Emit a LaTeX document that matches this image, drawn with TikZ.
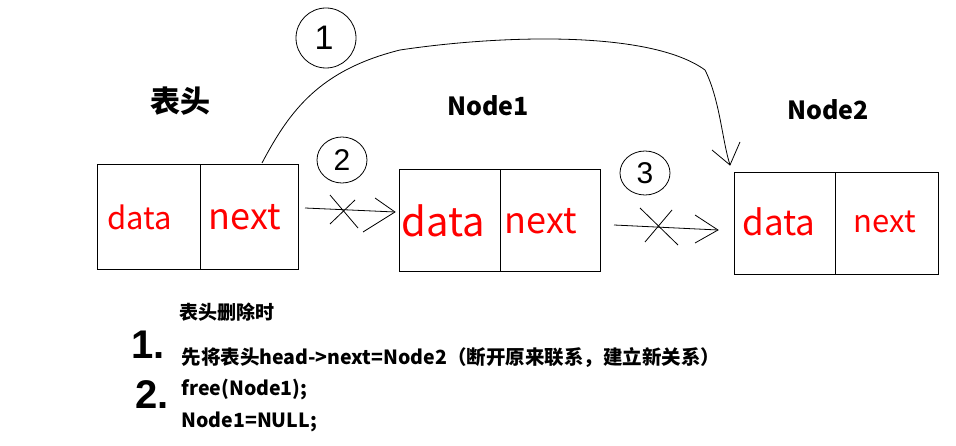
\documentclass[tikz,border=0pt]{standalone}
\usepackage{fontspec}
\setmainfont{Liberation Sans}
\newfontfamily\cjk{Noto Sans CJK SC}
\begin{document}
\begin{tikzpicture}[x=1pt,y=-1pt,
  cell/.style={draw,line width=1pt},
  red/.style={text=red,font=\cjk},
  hand/.style={line width=0.8pt},
  lbl/.style={font=\cjk\bfseries,anchor=west}]
\useasboundingbox (0,0) rectangle (956,446);
% boxes
\draw[cell] (97,165) rectangle (298,270); \draw[cell] (200,165)--(200,270);
\draw[cell] (399,170) rectangle (600,272); \draw[cell] (500,170)--(500,272);
\draw[cell] (734,173) rectangle (938,275); \draw[cell] (835,173)--(835,275);
\node[red,font=\cjk\fontsize{31}{31}\selectfont,text=red] (d1) at (140,217) {data};
\node[red,font=\cjk\fontsize{36}{36}\selectfont,text=red] (n1) at (245,217) {next};
\node[red,font=\cjk\fontsize{40}{40}\selectfont,text=red] (d2) at (443,221) {data};
\node[red,font=\cjk\fontsize{36}{36}\selectfont,text=red] (n2) at (541,221) {next};
\node[red,font=\cjk\fontsize{35}{35}\selectfont,text=red] (d3) at (779,222) {data};
\node[red,font=\cjk\fontsize{31}{31}\selectfont,text=red] (n3) at (885,222) {next};
% titles
\node[font=\cjk\bfseries\fontsize{30}{30}\selectfont] (t0) at (180,101) {表头};
\node[font=\cjk\bfseries\fontsize{25}{25}\selectfont] (t1) at (488,106) {Node1};
\node[font=\cjk\bfseries\fontsize{25}{25}\selectfont] (t2) at (828,110) {Node2};
% arrow 1
\draw[hand] (262,163) .. controls (290,110) and (320,70) .. (400,50)
  .. controls (500,35) and (650,30) .. (705,70)
  .. controls (720,100) and (722,140) .. (730,165);
\draw[hand] (712,150) -- (730,165) -- (740,142);
\draw[hand] (326,38) ellipse (30 and 30);
\node[font=\fontsize{34}{34}\selectfont] (c1) at (324,38) {1};
% arrow 2
\draw[hand] (305,208) -- (395,212);
\draw[hand] (375,198) -- (395,212) -- (363,232);
\draw[hand] (330,195) -- (358,228); \draw[hand] (330,224) -- (355,200);
\draw[hand] (342,160) ellipse (25 and 23);
\node[font=\fontsize{30}{30}\selectfont] (c2) at (342,160) {2};
% arrow 3
\draw[hand] (614,225) -- (718,230);
\draw[hand] (695,215) -- (718,230) -- (695,243);
\draw[hand] (640,208) -- (678,245); \draw[hand] (645,242) -- (672,210);
\draw[hand] (645,173) ellipse (25 and 22);
\node[font=\fontsize{30}{30}\selectfont] (c3) at (645,173) {3};
% bottom text
\node[lbl,font=\cjk\bfseries\fontsize{19}{19}\selectfont] (b0) at (176,312) {表头删除时};
\node[font=\bfseries\fontsize{40}{40}\selectfont] (k1) at (148,345) {1.};
\node[font=\bfseries\fontsize{40}{40}\selectfont] (k2) at (152,395) {2.};
\node[lbl,font=\cjk\bfseries\fontsize{19.5}{19.5}\selectfont] (b1) at (178,358) {先将表头head->next=Node2（断开原来联系，建立新关系）};
\node[lbl,font=\cjk\bfseries\fontsize{19.5}{19.5}\selectfont] (b2) at (178,390) {free(Node1);};
\node[lbl,font=\cjk\bfseries\fontsize{19.5}{19.5}\selectfont] (b3) at (178,422) {Node1=NULL;};
\end{tikzpicture}
\end{document}
